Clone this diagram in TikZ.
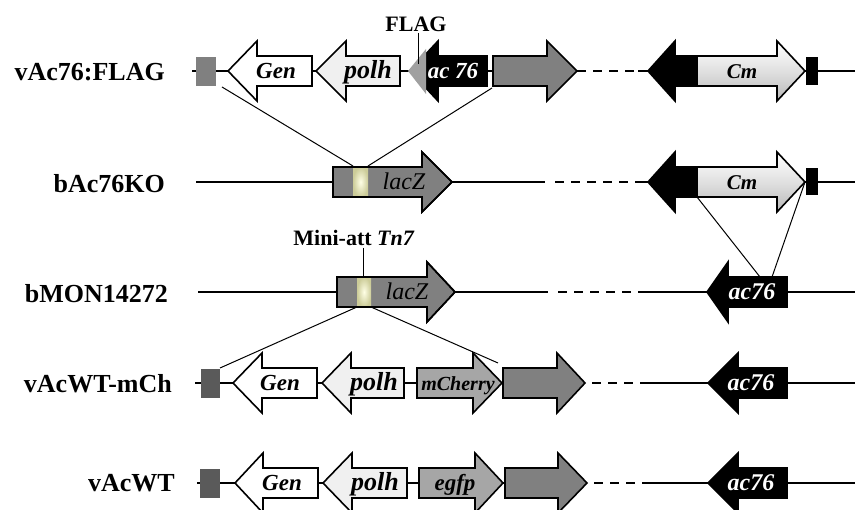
\documentclass[tikz,border=0pt]{standalone}
\usepackage{fontspec}
\setmainfont{Liberation Serif}
\definecolor{genegray}{HTML}{808080}
\definecolor{darkbox}{HTML}{5A5A5A}
\definecolor{midgray}{HTML}{A6A6A6}
\definecolor{palegray}{HTML}{F0F0F0}
\definecolor{flaggray}{HTML}{A0A0A0}
% gene arrow: tail x, head-base x, tip x, centre y, style
\newcommand\genearrow[5]{%
  \path[gene,#5] (#1,#4-15) -- (#2,#4-15) -- (#2,#4-30) -- (#3,#4)
    -- (#2,#4+30) -- (#2,#4+15) -- (#1,#4+15) -- cycle;}
\begin{document}
\begin{tikzpicture}[x=1pt,y=-1pt,
  gene/.style={draw=black,line width=1.6pt,line join=miter},
  backbone/.style={line width=1.5pt},
  dashline/.style={line width=1.5pt,dash pattern=on 9pt off 7pt},
  link/.style={line width=1pt},
  rowlab/.style={anchor=east,inner sep=0pt,text height=17pt,text depth=0pt,
    font=\fontsize{26}{28}\selectfont\bfseries},
  gtxt/.style={inner sep=0pt,text height=15pt,text depth=0pt,
    font=\fontsize{#1}{#1}\selectfont\bfseries\itshape},
  gtxt/.default=23,
  ltxt/.style={inner sep=0pt,text height=15pt,text depth=0pt,
    font=\fontsize{24}{24}\selectfont\itshape},
  calltxt/.style={inner sep=0pt,text height=14.5pt,text depth=0pt,
    font=\fontsize{22}{24}\selectfont\bfseries},
  cmshade/.style={top color=white,bottom color=black!28,middle color=black!12},
  glow/.style={inner color=white!90!yellow,outer color=black!25!white!80!yellow},
]
\useasboundingbox (0,0) rectangle (855,510);
\clip (0,0) rectangle (855,510);

% ---------------- row labels
\node[rowlab] (l1) at (165,72) {vAc76:FLAG};
\node[rowlab] (l2) at (165,184) {bAc76KO};
\node[rowlab] (l3) at (168,294) {bMON14272};
\node[rowlab] (l4) at (172,384) {vAcWT-mCh};
\node[rowlab] (l5) at (175,483) {vAcWT};

% ---------------- backbones
\draw[backbone] (192,71) -- (577,71);
\draw[dashline] (577,71) -- (640,71);
\draw[backbone] (638,71) -- (855,71);

\draw[backbone] (196,182) -- (545,182);
\draw[dashline] (555,182) -- (640,182);
\draw[backbone] (638,182) -- (855,182);

\draw[backbone] (198,292) -- (548,292);
\draw[dashline] (558,292) -- (640,292);
\draw[backbone] (638,292) -- (855,292);

\draw[backbone] (195,383) -- (585,383);
\draw[dashline] (592,383) -- (648,383);
\draw[backbone] (646,383) -- (855,383);

\draw[backbone] (197,483) -- (587,483);
\draw[dashline] (594,483) -- (648,483);
\draw[backbone] (646,483) -- (855,483);

% ---------------- vAc76:FLAG
\fill[genegray] (196,57) rectangle (216,86);
\genearrow{312}{257}{228}{71}{fill=white}
\genearrow{400}{346}{316}{71}{fill=palegray}
\genearrow{487}{438}{410}{71}{fill=black}
\fill[flaggray] (408,71) -- (426,49) -- (426,94) -- cycle;
\genearrow{493}{547}{577}{71}{fill=genegray}
\genearrow{697}{675}{648}{71}{fill=black}
\genearrow{697}{777}{805}{71}{cmshade}
\fill (806,57) rectangle (818,85);
\node[gtxt] (gen1) at (276,71) {Gen};
\node[gtxt=26] (polh1) at (368,71) {polh};
\node[gtxt,text=white] (ac1) at (453,71) {ac 76};
\node[gtxt=21] (cm1) at (742,71) {Cm};
\node[calltxt] (flag) at (416,24) {FLAG};
\coordinate (flagtop) at (418,33);
\coordinate (flagtip) at (418,64);
\draw[link] (flagtop) -- (flagtip);

% ---------------- bAc76KO
\genearrow{333}{422}{452}{182}{fill=genegray}
\shade[glow] (353,167) rectangle (368,197);
\genearrow{333}{422}{452}{182}{fill=none}
\node[ltxt] (lz2) at (404,182) {lacZ};
\genearrow{697}{675}{648}{182}{fill=black}
\genearrow{697}{777}{805}{182}{cmshade}
\fill (806,168) rectangle (818,195);
\node[gtxt=21] (cm2) at (742,182) {Cm};

% ---------------- bMON14272
\genearrow{337}{427}{455}{292}{fill=genegray}
\shade[glow] (357,277) rectangle (371,307);
\genearrow{337}{427}{455}{292}{fill=none}
\node[ltxt] (lz3) at (407,292) {lacZ};
\genearrow{787}{728}{707}{292}{fill=black}
\node[gtxt=24,text=white] (ac3) at (752,292) {ac76};
\node[calltxt] (mini) at (354,238) {Mini-att \textit{Tn7}};
\coordinate (minitop) at (363,248);
\coordinate (minibot) at (363,277);
\draw[link] (minitop) -- (minibot);

% ---------------- vAcWT-mCh
\fill[darkbox] (201,369) rectangle (220,398);
\genearrow{317}{262}{233}{383}{fill=white}
\genearrow{404}{351}{322}{383}{fill=palegray}
\genearrow{417}{473}{502}{383}{fill=midgray}
\genearrow{503}{557}{585}{383}{fill=genegray}
\genearrow{787}{738}{708}{383}{fill=black}
\node[gtxt] (gen4) at (280,383) {Gen};
\node[gtxt=26] (polh4) at (374,383) {polh};
\node[gtxt=20] (mch) at (458,383) {mCherry};
\node[gtxt=24,text=white] (ac4) at (751,383) {ac76};

% ---------------- vAcWT
\fill[darkbox] (200,469) rectangle (220,498);
\genearrow{318}{263}{235}{483}{fill=white}
\genearrow{407}{352}{323}{483}{fill=palegray}
\genearrow{419}{475}{503}{483}{fill=midgray}
\genearrow{505}{558}{587}{483}{fill=genegray}
\genearrow{787}{738}{708}{483}{fill=black}
\node[gtxt] (gen5) at (282,483) {Gen};
\node[gtxt=26] (polh5) at (375,483) {polh};
\node[gtxt] (egfp) at (455,483) {egfp};
\node[gtxt=24,text=white] (ac5) at (751,483) {ac76};

% ---------------- recombination links
\coordinate (a1) at (222,87);   \coordinate (b1) at (353,166);
\coordinate (a2) at (492,88);   \coordinate (b2) at (368,166);
\coordinate (a3) at (697,197);  \coordinate (b3) at (760,277);
\coordinate (a4) at (805,182);  \coordinate (b4) at (772,277);
\coordinate (a5) at (357,307);  \coordinate (b5) at (220,368);
\coordinate (a6) at (371,307);  \coordinate (b6) at (498,363);
\draw[link] (a1) -- (b1);
\draw[link] (a2) -- (b2);
\draw[link] (a3) -- (b3);
\draw[link] (a4) -- (b4);
\draw[link] (a5) -- (b5);
\draw[link] (a6) -- (b6);
\end{tikzpicture}
\end{document}
